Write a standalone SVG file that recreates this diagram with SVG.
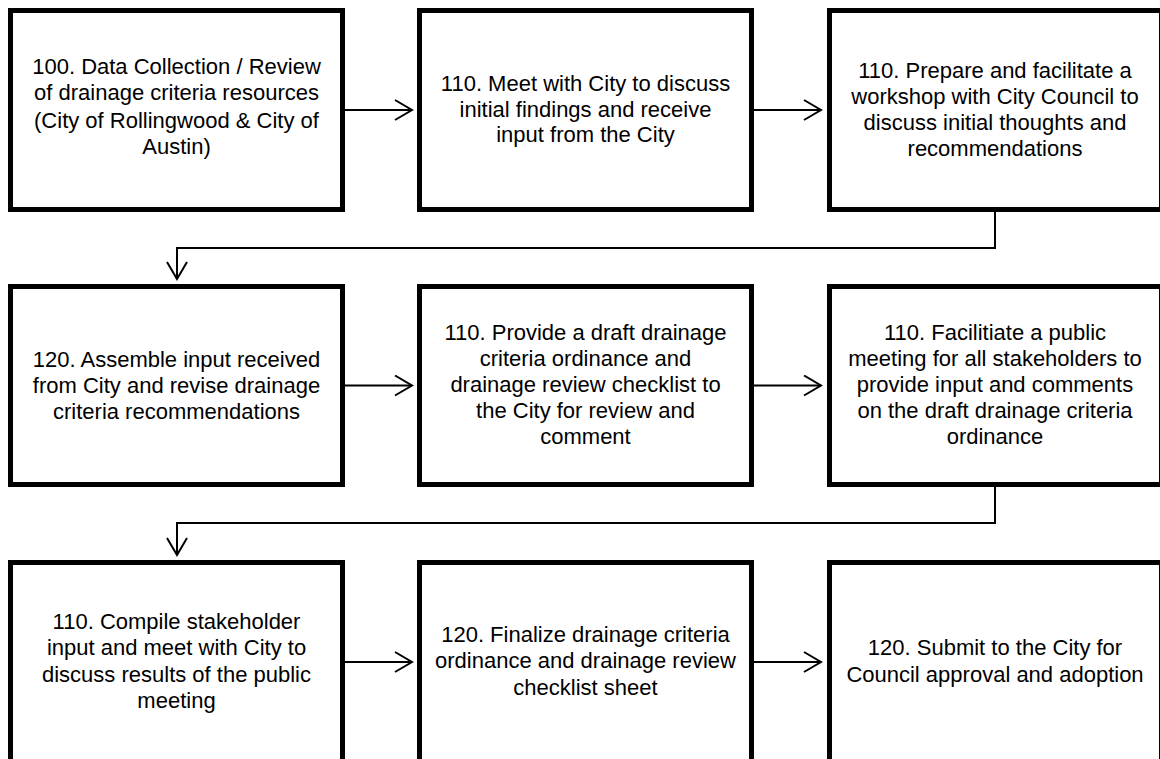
<svg xmlns="http://www.w3.org/2000/svg" width="1160" height="759" viewBox="0 0 1160 759">
<style>
.box{fill:#fff;stroke:#000;stroke-width:5}
.lbl{font-family:"Liberation Sans",Arial,sans-serif;font-size:22px;fill:#000;text-anchor:middle}
.con{fill:none;stroke:#000;stroke-width:2}
</style>
<defs>
<marker id="arr" viewBox="0 0 20 22" refX="18" refY="11" markerWidth="20" markerHeight="22" markerUnits="userSpaceOnUse" orient="auto">
<path d="M1,1 L18,11 L1,21" fill="none" stroke="#000" stroke-width="2"/>
</marker>
</defs>
<rect width="1160" height="759" fill="#fff"/>
<g id="connectors">
<path class="con" d="M345,110 H412" marker-end="url(#arr)"/>
<path class="con" d="M754,110 H821" marker-end="url(#arr)"/>
<path class="con" d="M995,212 V248 H177 V279" marker-end="url(#arr)"/>
<path class="con" d="M345,385.5 H412" marker-end="url(#arr)"/>
<path class="con" d="M754,385.5 H821" marker-end="url(#arr)"/>
<path class="con" d="M995,487 V523 H177 V555" marker-end="url(#arr)"/>
<path class="con" d="M345,662 H412" marker-end="url(#arr)"/>
<path class="con" d="M754,662 H821" marker-end="url(#arr)"/>
</g>
<g id="n1">
<rect class="box" x="10.5" y="10.5" width="332" height="199"/>
<text class="lbl"><tspan x="176.5" y="74">100. Data Collection / Review</tspan><tspan x="176.5" y="100">of drainage criteria resources</tspan><tspan x="176.5" y="128">(City of Rollingwood &amp; City of</tspan><tspan x="176.5" y="154">Austin)</tspan></text>
</g>
<g id="n2">
<rect class="box" x="419.5" y="10.5" width="332" height="199"/>
<text class="lbl"><tspan x="585.5" y="91">110. Meet with City to discuss</tspan><tspan x="585.5" y="116.5">initial findings and receive</tspan><tspan x="585.5" y="142">input from the City</tspan></text>
</g>
<g id="n3">
<rect class="box" x="829.5" y="10.5" width="332" height="199"/>
<text class="lbl"><tspan x="995" y="78">110. Prepare and facilitate a</tspan><tspan x="995" y="104">workshop with City Council to</tspan><tspan x="995" y="130">discuss initial thoughts and</tspan><tspan x="995" y="156">recommendations</tspan></text>
</g>
<g id="n4">
<rect class="box" x="10.5" y="286.5" width="332" height="198"/>
<text class="lbl"><tspan x="176.5" y="366.5">120. Assemble input received</tspan><tspan x="176.5" y="392.5">from City and revise drainage</tspan><tspan x="176.5" y="418.5">criteria recommendations</tspan></text>
</g>
<g id="n5">
<rect class="box" x="419.5" y="286.5" width="332" height="198"/>
<text class="lbl"><tspan x="585.5" y="340">110. Provide a draft drainage</tspan><tspan x="585.5" y="366">criteria ordinance and</tspan><tspan x="585.5" y="392">drainage review checklist to</tspan><tspan x="585.5" y="418">the City for review and</tspan><tspan x="585.5" y="444">comment</tspan></text>
</g>
<g id="n6">
<rect class="box" x="829.5" y="286.5" width="332" height="198"/>
<text class="lbl"><tspan x="995" y="340">110. Facilitiate a public</tspan><tspan x="995" y="366">meeting for all stakeholders to</tspan><tspan x="995" y="392">provide input and comments</tspan><tspan x="995" y="418">on the draft drainage criteria</tspan><tspan x="995" y="444">ordinance</tspan></text>
</g>
<g id="n7">
<rect class="box" x="10.5" y="562.5" width="332" height="199"/>
<text class="lbl"><tspan x="176.5" y="628.5">110. Compile stakeholder</tspan><tspan x="176.5" y="655">input and meet with City to</tspan><tspan x="176.5" y="681.5">discuss results of the public</tspan><tspan x="176.5" y="708">meeting</tspan></text>
</g>
<g id="n8">
<rect class="box" x="419.5" y="562.5" width="332" height="199"/>
<text class="lbl"><tspan x="585.5" y="641.5">120. Finalize drainage criteria</tspan><tspan x="585.5" y="668">ordinance and drainage review</tspan><tspan x="585.5" y="694.5">checklist sheet</tspan></text>
</g>
<g id="n9">
<rect class="box" x="829.5" y="562.5" width="332" height="199"/>
<text class="lbl"><tspan x="995" y="655">120. Submit to the City for</tspan><tspan x="995" y="681.5">Council approval and adoption</tspan></text>
</g>
</svg>
